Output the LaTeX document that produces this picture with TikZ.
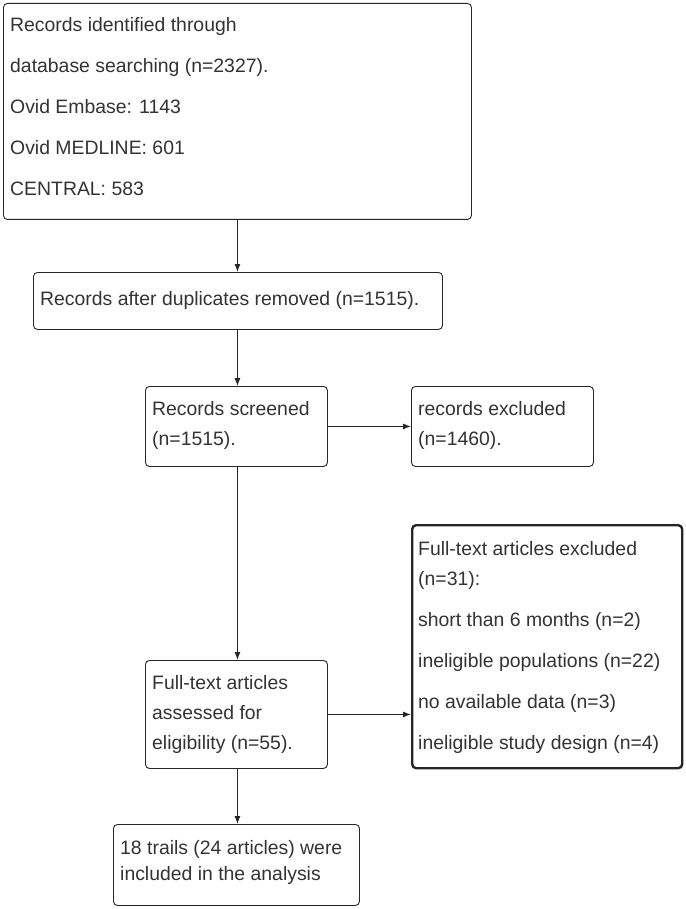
\documentclass[tikz,border=0pt]{standalone}
\usepackage{fontspec}
\setmainfont{Liberation Sans}
\usetikzlibrary{arrows.meta}
\begin{document}
\begin{tikzpicture}[x=1pt,y=-1pt,
  box/.style={draw=black!85, line width=0.9pt, rounded corners=4pt, anchor=north west, inner sep=0pt},
  boldbox/.style={box, line width=2.4pt},
  txt/.style={anchor=north west, inner sep=0pt, align=left, text=black!80, font=\fontsize{19.4}{30}\selectfont},
  arr/.style={draw=black!85, line width=0.9pt, -{Latex[length=8pt,width=6pt]}}]
\useasboundingbox (0,0) rectangle (685,909);
\fill[white] (0,0) rectangle (685,909);
% boxes
\node[box, minimum width=468pt, minimum height=216pt] (b1) at (3,3) {};
\node[box, minimum width=409pt, minimum height=57pt] (b2) at (33,272) {};
\node[box, minimum width=182pt, minimum height=80pt] (b3) at (145,386) {};
\node[box, minimum width=182pt, minimum height=80pt] (b4) at (411,386) {};
\node[box, minimum width=182pt, minimum height=108pt] (b5) at (145,660) {};
\node[boldbox, minimum width=270pt, minimum height=243pt] (b6) at (411,524) {};
\node[box, minimum width=246pt, minimum height=81pt] (b7) at (113,824) {};
% texts
\node[txt, font=\fontsize{19.4}{41}\selectfont] (t1) at (10,17) {Records identified through\\database searching (n=2327).\\Ovid Embase: 1143\\Ovid MEDLINE: 601\\CENTRAL: 583};
\node[txt] (t2) at (40,291) {Records after duplicates removed (n=1515).};
\node[txt] (t3) at (152,401) {Records screened\\(n=1515).};
\node[txt] (t4) at (418,401) {records excluded\\(n=1460).};
\node[txt] (t5) at (152,675) {Full-text articles\\assessed for\\eligibility (n=55).};
\node[txt] (t6) at (418,541) {Full-text articles excluded\\(n=31):\\[11pt]short than 6 months (n=2)\\[11pt]ineligible populations (n=22)\\[11pt]no available data (n=3)\\[11pt]ineligible study design (n=4)};
\node[txt, font=\fontsize{19.4}{26}\selectfont] (t7) at (120,840) {18 trails (24 articles) were\\included in the analysis};
% connectors
\draw[arr] (b1.south) -- (b1.south |- b2.north);
\draw[arr] (b2.south -| b1.south) -- (b1.south |- b3.north);
\draw[arr] (b3.east) -- (b4.west);
\draw[arr] (b3.south -| b1.south) -- (b1.south |- b5.north);
\draw[arr] (b5.east) -- (b5.east -| b6.west);
\draw[arr] (b5.south -| b1.south) -- (b1.south |- b7.north);
\end{tikzpicture}
\end{document}
